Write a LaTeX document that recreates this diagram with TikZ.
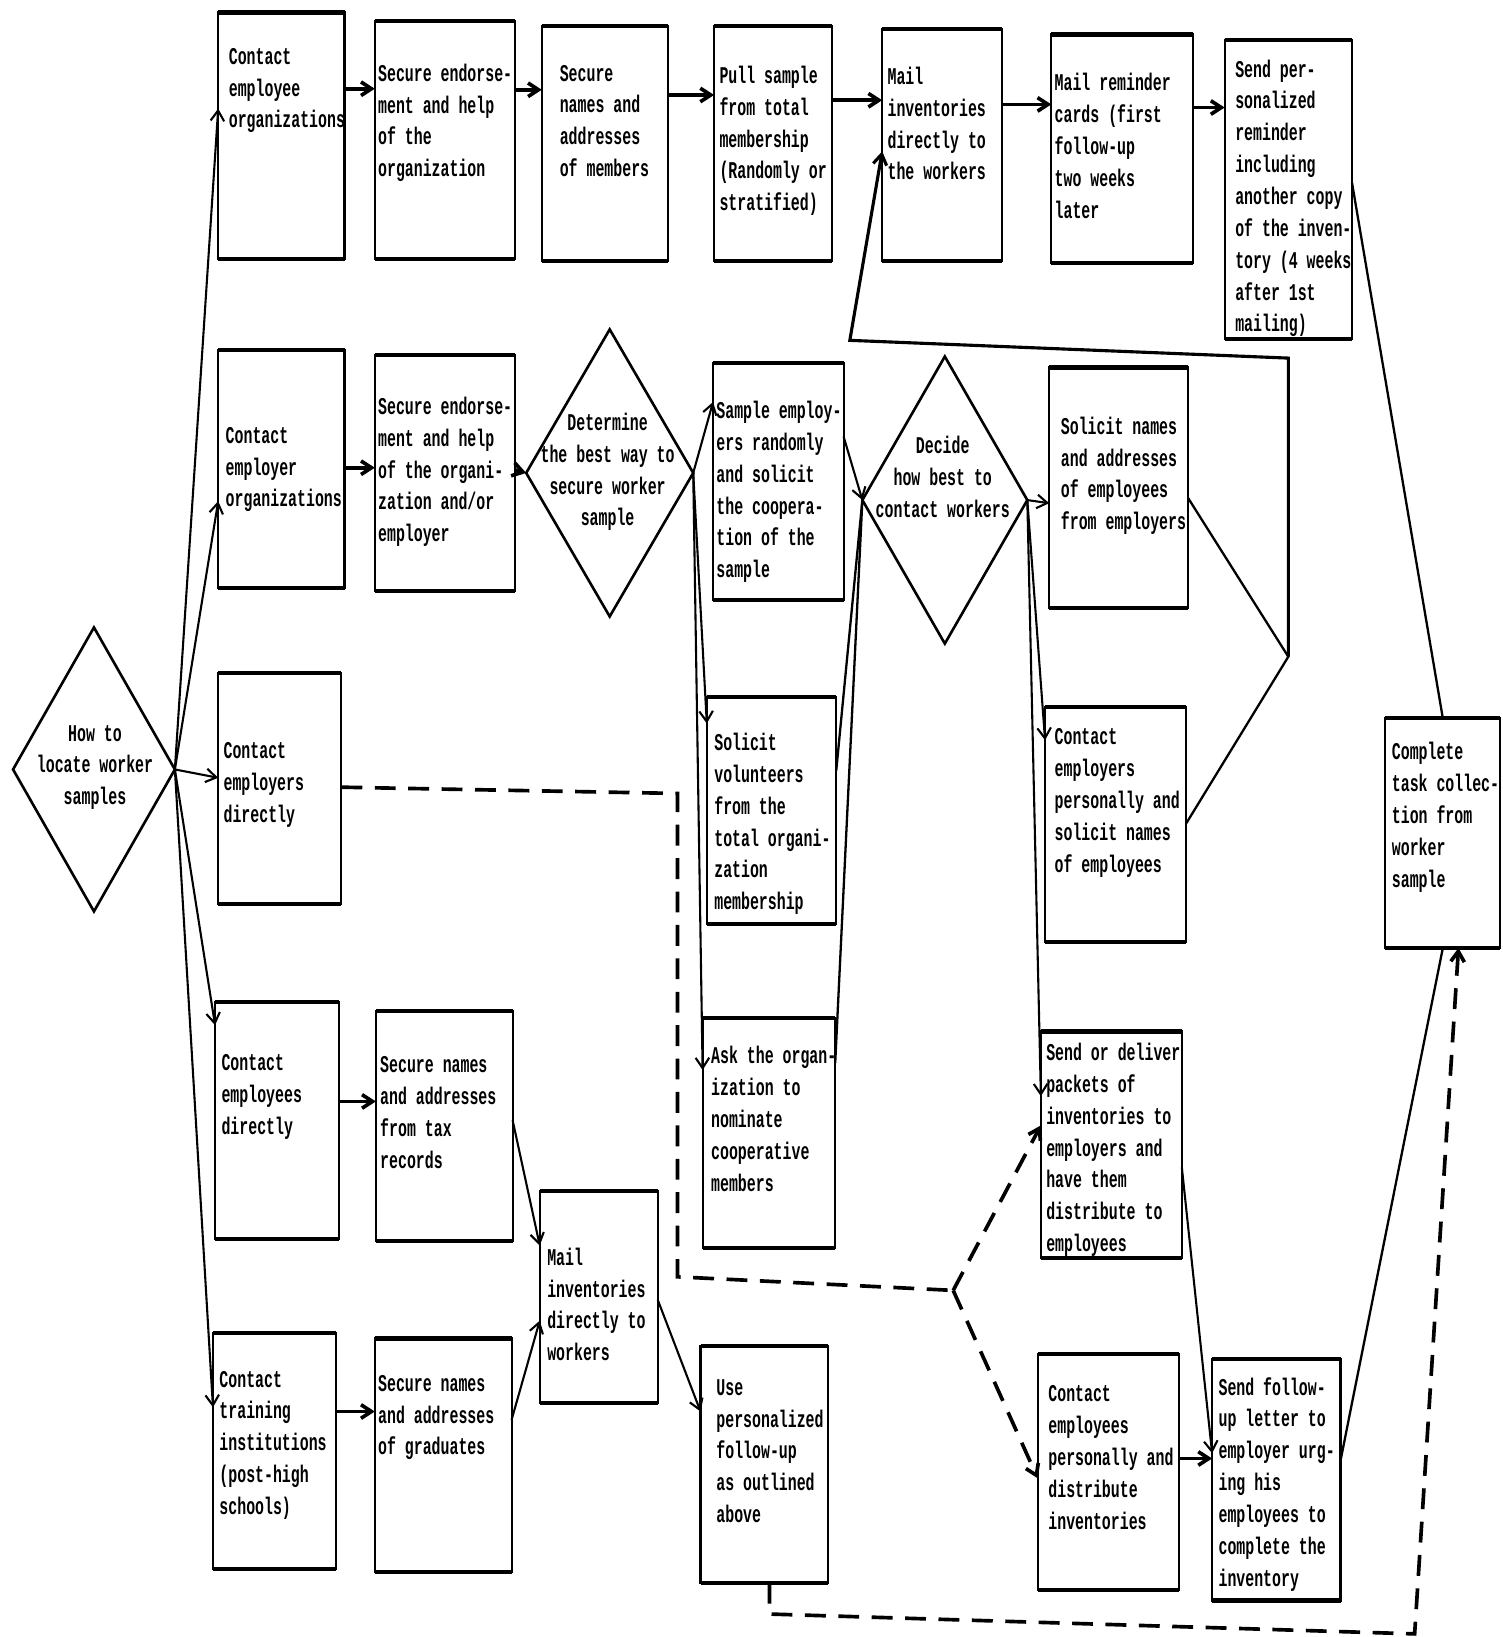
\documentclass[tikz,border=0pt]{standalone}
\usepackage{fontspec}
\usetikzlibrary{arrows.meta,shapes.geometric}
\newfontfamily\mono[FakeStretch=0.62]{Liberation Mono}

\tikzset{
  box/.style={draw, rectangle, line width=2pt, inner sep=0pt, outer sep=0pt},
  bar/.style={line width=4pt},
  txt/.style={anchor=north west, inner sep=0pt, align=left,
              font={\mono\bfseries\fontsize{23}{30.5}\selectfont}},
  dtxt/.style={anchor=center, inner sep=0pt, align=center,
              font={\mono\bfseries\fontsize{23}{30.5}\selectfont}},
  dmd/.style={draw, diamond, line width=2.5pt, inner sep=0pt, outer sep=0pt},
  tip/.style={-{Straight Barb[length=10pt,width=13pt]}},
  arr/.style={line width=2pt, tip},
  harr/.style={line width=3.5pt, tip},
  link/.style={line width=2.2pt},
  loopline/.style={line width=3pt},
  dsh/.style={line width=3.5pt, dash pattern=on 20pt off 12pt},
}

% box: name, x1, y1, x2, y2, left padding, first line centre, text
\newcommand\fbx[8]{%
  \node[box, minimum width={#4-#2}, minimum height={#5-#3}] (#1)
    at ({(#2+#4)/2},{(#3+#5)/2}) {};
  \node[txt] (#1t) at ({#2+#6},{#7-9}) {#8};
}

\begin{document}
\begin{tikzpicture}[x=1pt,y=-1pt]
\fill[white] (0,0) rectangle (1439,1568);
\useasboundingbox (0,0) rectangle (1439,1568);

% ---- decision diamonds
\node[dmd, minimum width=155, minimum height=272] (d0) at (90,737) {};
\node[dtxt] (d0t) at (91,735) {How to\\locate worker\\samples};
\node[dmd, minimum width=160, minimum height=275] (d1) at (584,453) {};
\node[dtxt] (d1t) at (582,452) {Determine\\the best way to\\secure worker\\sample};
\node[dmd, minimum width=158, minimum height=275] (d2) at (905,479) {};
\node[dtxt] (d2t) at (903,457) {Decide\\how best to\\contact workers};

% ---- row 1: employee organizations
\fbx{a1}{209}{12}{330}{248}{10}{55}{Contact\\employee\\organizations}
\fbx{a2}{359}{20}{493}{248}{3}{70}{Secure endorse-\\ment and help\\of the\\organization}
\fbx{a3}{519}{25}{640}{250}{17}{71}{Secure\\names and\\addresses\\of members}
\fbx{a4}{684}{25}{797}{250}{5}{72}{Pull sample\\from total\\membership\\(Randomly or\\stratified)}
\fbx{a5}{845}{28}{960}{250}{5}{73}{Mail\\inventories\\directly to\\the workers}
\fbx{a6}{1007}{33}{1143}{252}{3}{79}{Mail reminder\\cards (first\\follow-up\\two weeks\\later}
\fbx{a7}{1173}{38}{1295}{325}{10}{66}{Send per-\\sonalized\\reminder\\including\\another copy\\of the inven-\\tory (4 weeks\\after 1st\\mailing)}

% ---- row 2: employer organizations
\fbx{b1}{209}{335}{330}{563}{7}{418}{Contact\\employer\\organizations}
\fbx{b2}{359}{340}{493}{566}{3}{389}{Secure endorse-\\ment and help\\of the organi-\\zation and/or\\employer}
\fbx{b3}{683}{348}{808}{575}{3}{393}{Sample employ-\\ers randomly\\and solicit\\the coopera-\\tion of the\\sample}
\fbx{b4}{1005}{352}{1138}{582}{11}{408}{Solicit names\\and addresses\\of employees\\from employers}

% ---- row 3
\fbx{c1}{209}{645}{327}{866}{5}{720}{Contact\\employers\\directly}
\fbx{b5}{677}{668}{801}{885}{7}{711}{Solicit\\volunteers\\from the\\total organi-\\zation\\membership}
\fbx{b6}{1001}{677}{1136}{902}{9}{707}{Contact\\employers\\personally and\\solicit names\\of employees}
\fbx{e}{1327}{688}{1437}{908}{6}{720}{Complete\\task collec-\\tion from\\worker\\sample}

% ---- row 4
\fbx{f1}{206}{960}{325}{1187}{6}{1019}{Contact\\employees\\directly}
\fbx{f2}{360}{968}{491}{1189}{4}{1021}{Secure names\\and addresses\\from tax\\records}
\fbx{b7}{673}{975}{800}{1195}{8}{1011}{Ask the organ-\\ization to\\nominate\\cooperative\\members}
\fbx{g1}{997}{988}{1132}{1205}{5}{1008}{Send or deliver\\packets of\\inventories to\\employers and\\have them\\distribute to\\employees}
\fbx{m}{517}{1141}{630}{1344}{7}{1204}{Mail\\inventories\\directly to\\workers}

% ---- row 5
\fbx{h1}{204}{1277}{322}{1503}{6}{1322}{Contact\\training\\institutions\\(post-high\\schools)}
\fbx{h2}{359}{1282}{490}{1506}{3}{1326}{Secure names\\and addresses\\of graduates}
\fbx{u}{671}{1289}{793}{1516}{15}{1330}{Use\\personalized\\follow-up\\as outlined\\above}
\fbx{g2}{994}{1297}{1129}{1523}{10}{1336}{Contact\\employees\\personally and\\distribute\\inventories}
\fbx{s}{1161}{1302}{1284}{1533}{6}{1328}{Send follow-\\up letter to\\employer urg-\\ing his\\employees to\\complete the\\inventory}

% heavier top and bottom rules of every box
\foreach \n in {a1,a2,a3,a4,a5,a6,a7,b1,b2,b3,b4,c1,b5,b6,e,f1,f2,b7,g1,m,h1,h2,u,g2,s}
  \draw[bar] (\n.north west) -- (\n.north east) (\n.south west) -- (\n.south east);

% ---- fan out of the first decision
\draw[arr] (d0.east) -- (a1.west |- 0,104);
\draw[arr] (d0.east) -- (b1.west |- 0,480);
\draw[arr] (d0.east) -- (c1.west |- 0,745);
\draw[arr] (d0.east) -- (f1.west |- 0,982);
\draw[arr] (d0.east) -- (h1.west |- 0,1348);

% ---- row 1 chain
\draw[harr] (a1.east |- 0,85) -- (a2.west |- 0,85);
\draw[harr] (a2.east |- 0,86) -- (a3.west |- 0,86);
\draw[harr] (a3.east |- 0,91) -- (a4.west |- 0,91);
\draw[harr] (a4.east |- 0,96) -- (a5.west |- 0,96);
\draw[harr] (a5.east |- 0,100) -- (a6.west |- 0,100);
\draw[harr] (a6.east |- 0,103) -- (a7.west |- 0,103);
\draw[link] (a7.east |- 0,175) -- (e.north);

% ---- row 2 chain
\draw[harr] (b1.east |- 0,448) -- (b2.west |- 0,448);
\draw[harr] (b2.east |- 0,450) -- (d1.west);
\draw[arr] (d1.east) -- (b3.west |- 0,385);
\draw[arr] (d1.east) -- (b5.west |- 0,693);
\draw[arr] (d1.east) -- (b7.west |- 0,1025);
\draw[arr] (b3.east |- 0,418) -- (d2.west);
\draw[link] (b5.east |- 0,738) -- (d2.west);
\draw[link] (b7.east |- 0,1018) -- (d2.west);
\draw[arr] (d2.east) -- (b4.west |- 0,482);
\draw[arr] (d2.east) -- (b6.west |- 0,709);
\draw[arr] (d2.east) -- (g1.west |- 0,1050);

% ---- loop back to the mailing
\coordinate (jn) at (1234,629);
\coordinate (lp1) at (1234,343);
\coordinate (lp2) at (814,326);
\draw[link] (b4.east |- 0,477) -- (jn) -- (b6.east |- 0,789);
\draw[loopline, tip] (jn) -- (lp1) -- (lp2) -- (a5.west |- 0,145);

% ---- follow-up letter
\draw[arr] (g1.east |- 0,1118) -- (s.west |- 0,1392);
\draw[harr] (g2.east |- 0,1397) -- (s.west |- 0,1397);
\draw[link] (s.east |- 0,1399) -- (e.south);

% ---- direct contact of employees and training institutions
\draw[harr] (f1.east |- 0,1055) -- (f2.west |- 0,1055);
\draw[arr] (f2.east |- 0,1073) -- (m.west |- 0,1193);
\draw[harr] (h1.east |- 0,1352) -- (h2.west |- 0,1352);
\draw[arr] (h2.east |- 0,1360) -- (m.west |- 0,1265);
\draw[arr] (m.east |- 0,1245) -- (u.west |- 0,1352);

% ---- dashed routes
\coordinate (p1) at (649,760);
\coordinate (p2) at (649,1223);
\coordinate (p3) at (913,1236);
\draw[dsh] (c1.east |- 0,754) -- (p1) -- (p2) -- (p3);
\draw[dsh, tip] (p3) -- (g1.west |- 0,1078);
\draw[dsh, tip] (p3) -- (g2.west |- 0,1416);
\coordinate (q1) at (737,1546);
\coordinate (q2) at (1355,1565);
\draw[dsh, tip] (u.south -| 737,0) -- (q1) -- (q2) -- (e.south -| 1397,0);
\end{tikzpicture}
\end{document}
